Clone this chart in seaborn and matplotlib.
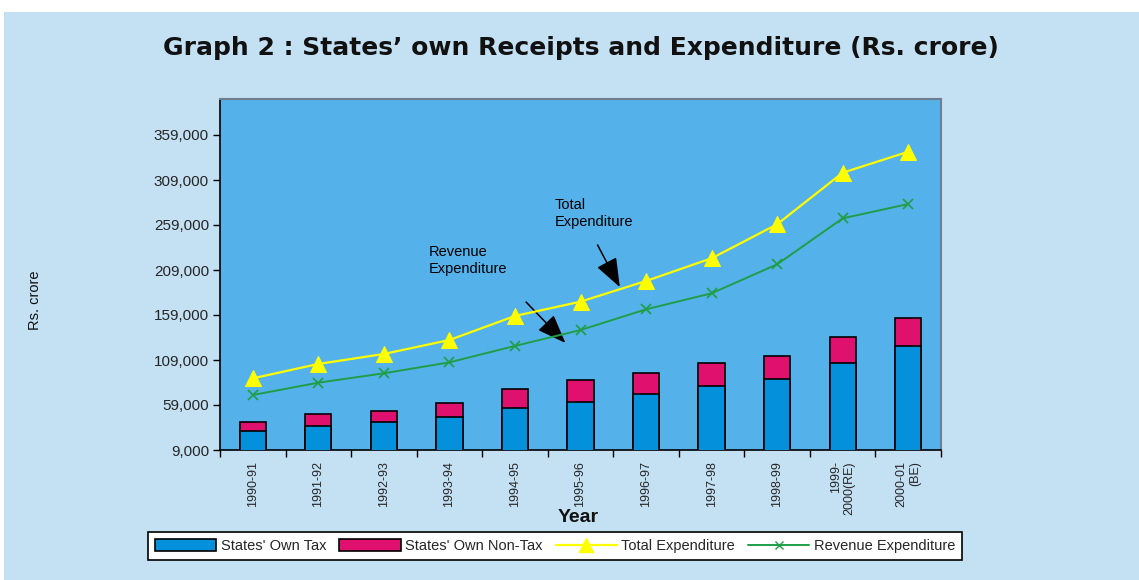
import numpy as np
import pandas as pd
import matplotlib
matplotlib.use("Agg")
import matplotlib.pyplot as plt
from matplotlib.patches import Rectangle, Patch
from matplotlib.lines import Line2D
from matplotlib.ticker import FuncFormatter
import seaborn as sns

# ---- data (Rs. crore) ----
years = ["1990-91", "1991-92", "1992-93", "1993-94", "1994-95", "1995-96",
         "1996-97", "1997-98", "1998-99", "1999-\n2000(RE)", "2000-01\n(BE)"]
own_tax = [30100, 36000, 40100, 46000, 55300, 62700, 70900, 80400, 88200, 105300, 124600]
own_non_tax = [10300, 12700, 12200, 15600, 21800, 24100, 23300, 25600, 25200, 29300, 31100]
total_exp = [88600, 104600, 115700, 131200, 157900, 173800, 196800, 222000, 259800, 317100, 340400]
revenue_exp = [70100, 83800, 94200, 106400, 124600, 142300, 165300, 183100, 215300, 266400, 282300]
y_ticks = [9000, 59000, 109000, 159000, 209000, 259000, 309000, 359000]

sns.set_theme(style="white")
plt.rcParams["font.family"] = ["Liberation Sans", "DejaVu Sans"]

FIG_BG = "#c4e0f3"
PLOT_BG = "#55b1ea"
BLUE = "#0590dc"
PINK = "#e0106e"
YELLOW = "#ffff00"
GREEN = "#1f9e48"

fig = plt.figure(figsize=(11.39, 5.80), dpi=100, facecolor="white")
fig.patches.append(Rectangle((4 / 1139, 0), 1, 1 - 12 / 580, transform=fig.transFigure,
                             facecolor=FIG_BG, edgecolor="none", zorder=-10))

ax = fig.add_axes([220 / 1139, 1 - 450 / 580, 721 / 1139, 351 / 580])
ax.set_facecolor(PLOT_BG)

n = len(years)
df = pd.DataFrame({
    "year": years,
    "tax": own_tax,
    "total_receipts": [a + b for a, b in zip(own_tax, own_non_tax)],
    "total_exp": total_exp,
    "rev_exp": revenue_exp,
    "idx": np.arange(n),
})

sns.barplot(data=df, x="year", y="total_receipts", color=PINK, saturation=1,
            width=0.4, edgecolor="black", linewidth=1.2, ax=ax, zorder=2)
sns.barplot(data=df, x="year", y="tax", color=BLUE, saturation=1,
            width=0.4, edgecolor="black", linewidth=1.2, ax=ax, zorder=3)

sns.lineplot(data=df, x="idx", y="total_exp", color=YELLOW, linewidth=1.6,
             marker="^", markersize=11, markeredgecolor=YELLOW, ax=ax, zorder=5)
sns.lineplot(data=df, x="idx", y="rev_exp", color=GREEN, linewidth=1.4,
             marker="x", markersize=7, markeredgewidth=1.2, markeredgecolor=GREEN,
             ax=ax, zorder=4)

ax.set_xlim(-0.5, n - 0.5)
ax.set_ylim(9000, 399000)
ax.set_yticks(y_ticks)
ax.yaxis.set_major_formatter(FuncFormatter(lambda v, p: f"{v:,.0f}"))
ax.tick_params(axis="y", which="major", direction="out", length=5, width=1,
               color="black", labelsize=11, pad=3, left=True)

ax.set_xticks(np.arange(-0.5, n, 1.0))
ax.set_xticklabels([])
ax.set_xticks(np.arange(n), minor=True)
ax.set_xticklabels(years, minor=True, rotation=90, fontsize=9, va="top",
                   ha="center", multialignment="right")
ax.tick_params(axis="x", which="major", direction="out", length=5, width=1,
               color="black", bottom=True)
ax.tick_params(axis="x", which="minor", length=0, pad=8)

ax.set_xlabel("")
ax.set_ylabel("")

for side in ["left", "bottom"]:
    ax.spines[side].set_color("black")
    ax.spines[side].set_linewidth(1.2)
for side in ["top", "right"]:
    ax.spines[side].set_color("#6d7f8f")
    ax.spines[side].set_linewidth(1.5)

# annotations
arrow_style = dict(arrowstyle="-|>,head_length=1.0,head_width=0.38",
                   mutation_scale=18, color="black", lw=1.1, shrinkA=0, shrinkB=0)
ax.text(4.60, 289000, "Total\nExpenditure", fontsize=10.5, ha="left", va="top",
        color="black", linespacing=1.3)
ax.annotate("", xy=(5.60, 190000), xytext=(5.26, 236800), arrowprops=arrow_style)
ax.text(2.69, 236800, "Revenue\nExpenditure", fontsize=10.5, ha="left", va="top",
        color="black", linespacing=1.3)
ax.annotate("", xy=(4.77, 127900), xytext=(4.17, 173400), arrowprops=arrow_style)

# figure texts
fig.text(581 / 1139, 1 - 48 / 580, "Graph 2 : States\u2019 own Receipts and Expenditure (Rs. crore)",
         ha="center", va="center", fontsize=18, fontweight="bold", color="#111111",
         family=["DejaVu Sans"])
fig.text(35 / 1139, 1 - 300 / 580, "Rs. crore", rotation=90, ha="center", va="center",
         fontsize=10.5, color="#111111")
fig.text(578 / 1139, 1 - 518 / 580, "Year", ha="center", va="center",
         fontsize=14, fontweight="bold", color="#111111")

handles = [
    Patch(facecolor=BLUE, edgecolor="black", linewidth=1.2, label="States' Own Tax"),
    Patch(facecolor=PINK, edgecolor="black", linewidth=1.2, label="States' Own Non-Tax"),
    Line2D([], [], color=YELLOW, linewidth=1.6, marker="^", markersize=10,
           markeredgecolor=YELLOW, label="Total Expenditure"),
    Line2D([], [], color=GREEN, linewidth=1.4, marker="x", markersize=6,
           markeredgecolor=GREEN, label="Revenue Expenditure"),
]
leg = fig.legend(handles=handles, loc="center", bbox_to_anchor=(555 / 1139, 1 - 546 / 580),
                 ncol=4, fontsize=10.5, frameon=True, fancybox=False, handlelength=4.2,
                 handleheight=0.9, handletextpad=0.3, columnspacing=0.9,
                 borderpad=0.45, borderaxespad=0)
leg.get_frame().set_edgecolor("black")
leg.get_frame().set_linewidth(1.2)
leg.get_frame().set_facecolor("white")
leg.get_frame().set_alpha(1)

fig.savefig("out.png", dpi=100, facecolor=fig.get_facecolor())
